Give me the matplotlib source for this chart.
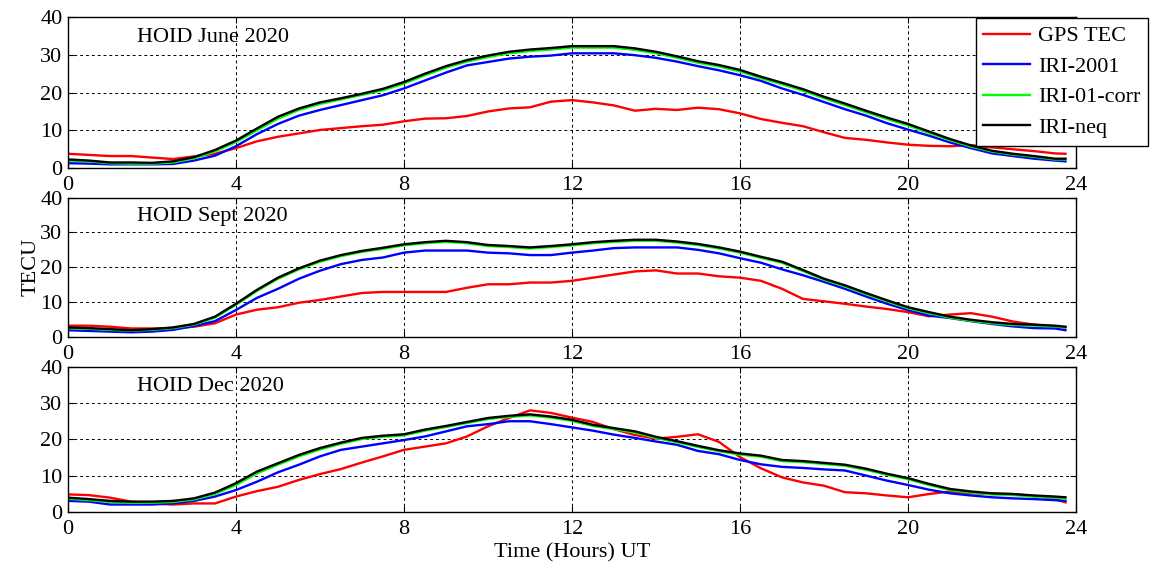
import matplotlib
matplotlib.use("Agg")

import matplotlib.pyplot as plt
import numpy as np

plt.rcParams['font.family'] = ['Liberation Serif', 'DejaVu Serif']

# time axis: half-hourly, last sample at 23:45 UT
hours = np.append(np.arange(0, 24, 0.5), 23.75)

series_names = ["GPS TEC", "IRI-2001", "IRI-01-corr", "IRI-neq"]
series_colors = ["#ff0000", "#0000ff", "#00ff00", "#000000"]
panel_titles = ["HOID June 2020", "HOID Sept 2020", "HOID Dec 2020"]

# June 2020
june_gps = [3.8, 3.5, 3.2, 3.2, 2.8, 2.4, 3.1, 3.8, 5.3, 7.1, 8.3, 9.2, 10.1, 10.6, 11.1, 11.5,
            12.4, 13.1, 13.2, 13.8, 15.0, 15.8, 16.1, 17.6, 18.0, 17.4, 16.6, 15.2, 15.7, 15.4,
            16.0, 15.6, 14.5, 13.0, 12.0, 11.1, 9.5, 8.0, 7.5, 6.8, 6.2, 5.9, 5.8, 6.1, 5.5,
            5.0, 4.5, 3.9, 3.8]
june_iri = [1.3, 1.2, 1.0, 1.0, 1.0, 1.1, 2.0, 3.3, 5.8, 9.0, 11.7, 13.9, 15.4, 16.7, 18.0, 19.3,
            21.1, 23.2, 25.3, 27.2, 28.1, 29.0, 29.5, 29.8, 30.4, 30.4, 30.4, 29.9, 29.2, 28.2,
            27.0, 25.9, 24.6, 23.1, 21.1, 19.4, 17.5, 15.6, 13.9, 11.9, 10.2, 8.6, 6.8, 5.3,
            3.9, 3.2, 2.5, 2.0, 1.8]
june_corr = [2.0, 1.8, 1.3, 1.2, 1.2, 1.5, 2.6, 4.4, 6.9, 10.0, 13.1, 15.4, 17.0, 18.2, 19.4, 20.6,
             22.4, 24.6, 26.6, 28.2, 29.4, 30.4, 31.0, 31.4, 31.9, 31.9, 31.9, 31.3, 30.4, 29.2,
             27.9, 26.9, 25.6, 23.8, 22.2, 20.5, 18.5, 16.7, 14.8, 13.0, 11.3, 9.3, 7.4, 5.7,
             4.4, 3.6, 3.0, 2.3, 2.3]
june_neq = [2.3, 2.0, 1.5, 1.5, 1.4, 1.8, 2.9, 4.8, 7.3, 10.5, 13.6, 15.8, 17.4, 18.5, 19.7, 21.0,
            22.8, 25.0, 27.0, 28.6, 29.8, 30.8, 31.4, 31.8, 32.3, 32.3, 32.3, 31.7, 30.8, 29.6,
            28.3, 27.3, 26.0, 24.2, 22.6, 20.9, 18.9, 17.1, 15.2, 13.4, 11.7, 9.7, 7.7, 6.0,
            4.6, 3.8, 3.2, 2.5, 2.5]

# September 2020
sept_gps = [3.2, 3.2, 2.9, 2.4, 2.4, 2.5, 2.9, 3.9, 6.4, 7.8, 8.5, 9.8, 10.6, 11.6, 12.6, 12.9,
            12.9, 12.9, 12.9, 14.1, 15.1, 15.1, 15.6, 15.6, 16.1, 17.0, 17.9, 18.8, 19.1, 18.2,
            18.2, 17.4, 17.0, 16.1, 13.8, 10.9, 10.2, 9.5, 8.7, 8.0, 7.1, 5.9, 6.4, 6.8, 5.8,
            4.4, 3.5, 2.9, 2.7]
sept_iri = [1.9, 1.7, 1.5, 1.3, 1.5, 2.0, 3.1, 4.5, 7.7, 11.2, 13.8, 16.7, 19.0, 20.9, 22.1, 22.8,
            24.2, 24.8, 24.8, 24.8, 24.2, 24.0, 23.5, 23.5, 24.2, 24.8, 25.5, 25.7, 25.7, 25.7,
            25.0, 24.0, 22.6, 21.3, 19.4, 17.7, 15.8, 13.8, 11.6, 9.5, 7.7, 6.1, 5.4, 4.5, 3.7,
            3.0, 2.5, 2.4, 1.9]
sept_corr = [2.5, 2.3, 2.0, 1.8, 2.0, 2.5, 3.5, 5.5, 9.2, 13.2, 16.7, 19.4, 21.6, 23.2, 24.4, 25.3,
             26.3, 26.9, 27.3, 26.9, 26.1, 25.8, 25.4, 25.8, 26.3, 26.9, 27.3, 27.6, 27.6, 27.1,
             26.4, 25.4, 24.2, 22.7, 21.3, 18.9, 16.4, 14.5, 12.3, 10.2, 8.2, 6.8, 5.5, 4.6, 3.9,
             3.4, 3.2, 3.0, 2.7]
sept_neq = [2.7, 2.5, 2.2, 1.9, 2.2, 2.7, 3.7, 5.8, 9.5, 13.5, 17.0, 19.7, 21.9, 23.5, 24.7, 25.6,
            26.6, 27.2, 27.6, 27.2, 26.4, 26.1, 25.7, 26.1, 26.6, 27.2, 27.6, 27.9, 27.9, 27.4,
            26.7, 25.7, 24.5, 23.0, 21.6, 19.2, 16.7, 14.8, 12.6, 10.5, 8.5, 7.1, 5.8, 4.9, 4.2,
            3.7, 3.5, 3.2, 2.9]

# December 2020
dec_gps = [4.8, 4.6, 3.9, 2.8, 2.3, 2.0, 2.3, 2.3, 4.2, 5.7, 6.9, 8.8, 10.4, 11.8, 13.6, 15.3,
           17.1, 18.0, 18.9, 20.8, 23.6, 25.9, 28.0, 27.3, 26.0, 24.8, 22.8, 21.2, 20.2, 20.7,
           21.4, 19.3, 15.1, 12.0, 9.5, 8.1, 7.2, 5.4, 5.1, 4.5, 4.0, 4.9, 5.6, 5.1, 4.9, 4.9,
           4.3, 3.5, 2.6]
dec_iri = [3.0, 2.8, 2.0, 2.0, 2.0, 2.3, 3.0, 4.2, 6.0, 8.3, 10.9, 13.0, 15.3, 17.1, 18.0, 18.9,
           19.8, 20.8, 22.2, 23.6, 24.2, 25.0, 25.0, 24.2, 23.3, 22.4, 21.3, 20.4, 19.4, 18.5,
           16.8, 15.9, 14.3, 13.1, 12.4, 12.1, 11.7, 11.4, 10.0, 8.6, 7.4, 6.1, 5.1, 4.5, 4.0,
           3.7, 3.5, 3.2, 3.0]
dec_corr = [3.6, 3.2, 2.7, 2.5, 2.5, 2.7, 3.4, 4.9, 7.4, 10.6, 13.0, 15.3, 17.2, 18.8, 20.1, 20.7,
            21.1, 22.4, 23.4, 24.5, 25.6, 26.2, 26.6, 26.0, 25.1, 23.7, 22.8, 21.9, 20.4, 19.2,
            17.9, 16.7, 15.8, 15.2, 14.0, 13.7, 13.2, 12.7, 11.6, 10.2, 9.0, 7.4, 6.0, 5.3, 4.8,
            4.6, 4.2, 3.9, 3.7]
dec_neq = [3.9, 3.5, 3.0, 2.8, 2.8, 3.0, 3.7, 5.3, 7.9, 11.1, 13.4, 15.7, 17.6, 19.1, 20.4, 21.0,
           21.4, 22.7, 23.7, 24.8, 25.9, 26.5, 26.9, 26.3, 25.4, 24.0, 23.1, 22.2, 20.7, 19.5,
           18.2, 17.0, 16.1, 15.5, 14.3, 14.0, 13.5, 13.0, 11.9, 10.5, 9.3, 7.7, 6.3, 5.6, 5.1,
           4.9, 4.5, 4.2, 4.0]

panels = [
    [june_gps, june_iri, june_corr, june_neq],
    [sept_gps, sept_iri, sept_corr, sept_neq],
    [dec_gps, dec_iri, dec_corr, dec_neq],
]

xticks = [0, 4, 8, 12, 16, 20, 24]
yticks = [0, 10, 20, 30, 40]

fig = plt.figure(figsize=(11.52, 5.68), dpi=100)

# axes boxes in figure fractions (left, bottom, width, height)
boxes = [
    (0.059, 0.704, 0.875, 0.266),
    (0.059, 0.407, 0.875, 0.245),
    (0.059, 0.099, 0.875, 0.255),
]

axes = []
for box, data, title in zip(boxes, panels, panel_titles):
    ax = fig.add_axes(box)
    for values, name, color in zip(data, series_names, series_colors):
        ax.plot(hours, values, color=color, lw=1.7, label=name)
    ax.set_xlim(0, 24)
    ax.set_ylim(0, 40)
    ax.set_xticks(xticks)
    ax.set_yticks(yticks)
    ax.grid(True, color="black", linestyle=(0, (3, 3)), lw=0.7)
    ax.tick_params(direction="in", top=True, right=True, labelsize=16, length=4, pad=4)
    ax.tick_params(axis="x", pad=6)
    for s in ax.spines.values():
        s.set_linewidth(1.0)
    ax.text(1.65, 34.6, title, fontsize=16, va="center", ha="left")
    axes.append(ax)

axes[1].set_ylabel("TECU", fontsize=16, labelpad=0)
axes[2].set_xlabel("Time (Hours) UT", fontsize=16, labelpad=3)

leg = axes[0].legend(loc="upper right", bbox_to_anchor=(1148 / 1152, 1 - 18 / 568),
                     bbox_transform=fig.transFigure, fontsize=16, fancybox=False,
                     framealpha=1, edgecolor="black", handlelength=2.1,
                     borderpad=0.35, labelspacing=0.45, handletextpad=0.35,
                     borderaxespad=0)
leg.get_frame().set_linewidth(1.0)

plt.savefig("out.png", dpi=100)
